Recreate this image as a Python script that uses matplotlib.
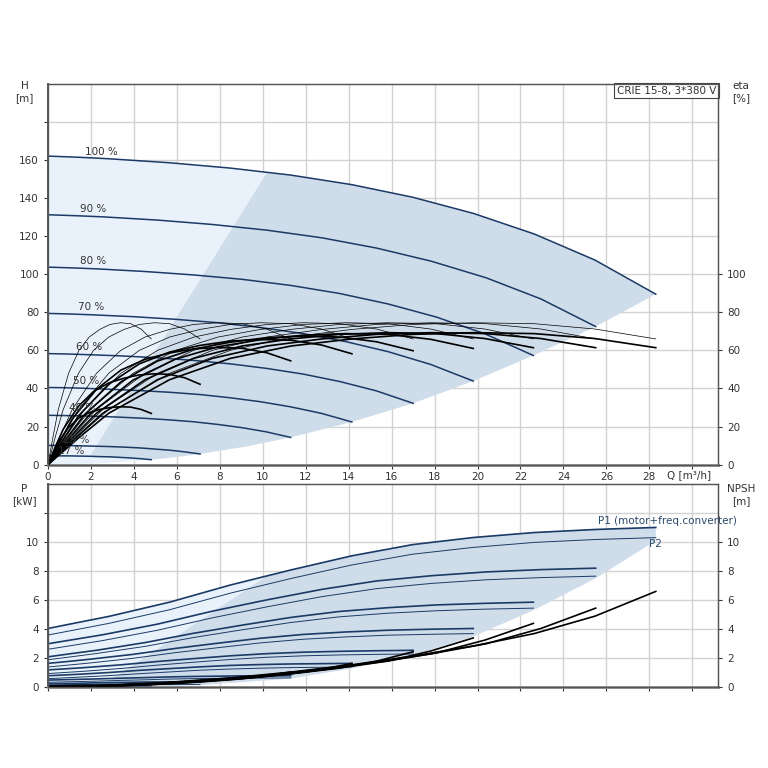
import matplotlib
matplotlib.use("Agg")
import matplotlib.pyplot as plt

# speeds and flow points (m3/h) for each speed curve
speeds = ["100 %", "90 %", "80 %", "70 %", "60 %", "50 %", "40 %", "25 %", "17 %"]
q100 = [0, 1.42, 2.83, 5.66, 8.49, 11.32, 14.15, 16.98, 19.81, 22.64, 25.47, 28.3]
q90 = [0, 1.28, 2.55, 5.1, 7.65, 10.2, 12.75, 15.3, 17.85, 20.4, 22.95, 25.5]
q80 = [0, 1.13, 2.26, 4.52, 6.78, 9.04, 11.3, 13.56, 15.82, 18.08, 20.34, 22.6]
q70 = [0, 0.99, 1.98, 3.96, 5.94, 7.92, 9.9, 11.88, 13.86, 15.84, 17.82, 19.8]
q60 = [0, 0.85, 1.7, 3.4, 5.1, 6.8, 8.5, 10.2, 11.9, 13.6, 15.3, 17.0]
q50 = [0, 0.71, 1.42, 2.83, 4.25, 5.66, 7.08, 8.49, 9.91, 11.32, 12.74, 14.15]
q40 = [0, 0.57, 1.13, 2.26, 3.39, 4.52, 5.65, 6.78, 7.91, 9.04, 10.17, 11.3]
q25 = [0, 0.35, 0.71, 1.42, 2.12, 2.83, 3.54, 4.25, 4.96, 5.66, 6.37, 7.08]
q17 = [0, 0.24, 0.48, 0.96, 1.44, 1.92, 2.41, 2.89, 3.37, 3.85, 4.33, 4.81]
q_all = [q100, q90, q80, q70, q60, q50, q40, q25, q17]

# head H [m]
h100 = [162, 161.4, 160.6, 158.5, 155.7, 152.0, 147.0, 140.4, 131.9, 121.1, 107.4, 89.5]
h90 = [131.2, 130.7, 130.1, 128.4, 126.1, 123.1, 119.1, 113.7, 106.8, 98.1, 87.0, 72.5]
h80 = [103.7, 103.3, 102.8, 101.4, 99.6, 97.3, 94.1, 89.9, 84.4, 77.5, 68.7, 57.3]
h70 = [79.4, 79.1, 78.7, 77.7, 76.3, 74.5, 72.0, 68.8, 64.6, 59.3, 52.6, 43.9]
h60 = [58.3, 58.1, 57.8, 57.1, 56.1, 54.7, 52.9, 50.5, 47.5, 43.6, 38.7, 32.2]
h50 = [40.5, 40.4, 40.2, 39.6, 38.9, 38.0, 36.8, 35.1, 33.0, 30.3, 26.9, 22.4]
h40 = [25.9, 25.8, 25.7, 25.4, 24.9, 24.3, 23.5, 22.5, 21.1, 19.4, 17.2, 14.3]
h25 = [10.1, 10.1, 10.0, 9.9, 9.7, 9.5, 9.2, 8.8, 8.2, 7.6, 6.7, 5.6]
h17 = [4.7, 4.7, 4.6, 4.6, 4.5, 4.4, 4.2, 4.1, 3.8, 3.5, 3.1, 2.6]
h_all = [h100, h90, h80, h70, h60, h50, h40, h25, h17]

# pump efficiency (thin) - same for every speed
eta_pump = [0, 15, 29, 48, 60, 67, 71, 73.6, 74.5, 74.0, 71.2, 66]
# total efficiency (thick)
eta100 = [0, 14.0, 27.0, 44.6, 55.8, 62.3, 66.0, 68.4, 69.3, 68.8, 66.2, 61.4]
eta90 = [0, 14.0, 27.0, 44.6, 55.8, 62.3, 66.0, 68.4, 69.3, 68.8, 66.2, 61.4]
eta80 = [0, 14.0, 27.0, 44.6, 55.8, 62.3, 66.0, 68.4, 69.3, 68.8, 66.2, 61.4]
eta70 = [0, 13.9, 26.8, 44.4, 55.4, 61.9, 65.6, 68.0, 68.8, 68.4, 65.8, 61.0]
eta60 = [0, 13.6, 26.3, 43.5, 54.4, 60.7, 64.3, 66.7, 67.5, 67.0, 64.5, 59.8]
eta50 = [0, 13.2, 25.6, 42.3, 52.9, 59.1, 62.6, 64.9, 65.7, 65.3, 62.8, 58.2]
eta40 = [0, 12.4, 24.0, 39.6, 49.6, 55.3, 58.6, 60.8, 61.5, 61.1, 58.8, 54.5]
eta25 = [0, 9.6, 18.6, 30.7, 38.4, 42.9, 45.4, 47.1, 47.7, 47.4, 45.6, 42.2]
eta17 = [0, 6.1, 11.8, 19.6, 24.5, 27.3, 29.0, 30.0, 30.4, 30.2, 29.0, 26.9]
eta_all = [eta100, eta90, eta80, eta70, eta60, eta50, eta40, eta25, eta17]

# power P1 (motor+freq.converter) and P2 [kW]
p1_100 = [4.05, 4.47, 4.88, 5.86, 7.04, 8.08, 9.05, 9.82, 10.31, 10.65, 10.86, 11.0]
p1_90 = [3.0, 3.31, 3.62, 4.35, 5.24, 6.02, 6.74, 7.32, 7.68, 7.94, 8.10, 8.2]
p1_80 = [2.1, 2.33, 2.55, 3.08, 3.72, 4.28, 4.81, 5.22, 5.48, 5.67, 5.78, 5.86]
p1_70 = [1.65, 1.79, 1.94, 2.27, 2.68, 3.04, 3.38, 3.64, 3.81, 3.93, 4.0, 4.05]
p1_60 = [1.2, 1.28, 1.36, 1.55, 1.78, 1.98, 2.17, 2.32, 2.42, 2.48, 2.52, 2.55]
p1_50 = [0.8, 0.85, 0.90, 1.02, 1.17, 1.29, 1.41, 1.51, 1.57, 1.61, 1.63, 1.65]
p1_40 = [0.5, 0.52, 0.54, 0.58, 0.63, 0.67, 0.72, 0.75, 0.77, 0.79, 0.79, 0.8]
p1_25 = [0.25, 0.26, 0.27, 0.28, 0.31, 0.33, 0.34, 0.36, 0.37, 0.37, 0.38, 0.38]
p1_17 = [0.15, 0.15, 0.16, 0.17, 0.18, 0.19, 0.20, 0.21, 0.21, 0.22, 0.22, 0.22]
p1_all = [p1_100, p1_90, p1_80, p1_70, p1_60, p1_50, p1_40, p1_25, p1_17]

p2_100 = [3.6, 4.0, 4.4, 5.34, 6.48, 7.49, 8.42, 9.16, 9.63, 9.97, 10.17, 10.3]
p2_90 = [2.62, 2.92, 3.22, 3.93, 4.78, 5.54, 6.24, 6.79, 7.15, 7.40, 7.55, 7.65]
p2_80 = [1.9, 2.11, 2.33, 2.82, 3.43, 3.96, 4.46, 4.85, 5.10, 5.27, 5.38, 5.45]
p2_70 = [1.4, 1.54, 1.68, 2.0, 2.39, 2.73, 3.06, 3.31, 3.47, 3.59, 3.65, 3.7]
p2_60 = [0.95, 1.03, 1.11, 1.30, 1.53, 1.73, 1.92, 2.07, 2.17, 2.23, 2.27, 2.3]
p2_50 = [0.6, 0.65, 0.70, 0.81, 0.94, 1.06, 1.18, 1.26, 1.32, 1.36, 1.38, 1.4]
p2_40 = [0.35, 0.37, 0.39, 0.43, 0.48, 0.52, 0.57, 0.60, 0.62, 0.64, 0.64, 0.65]
p2_25 = [0.12, 0.12, 0.13, 0.14, 0.15, 0.17, 0.18, 0.19, 0.19, 0.2, 0.2, 0.2]
p2_17 = [0.06, 0.06, 0.06, 0.07, 0.07, 0.08, 0.08, 0.08, 0.09, 0.09, 0.09, 0.09]
p2_all = [p2_100, p2_90, p2_80, p2_70, p2_60, p2_50, p2_40, p2_25, p2_17]

# NPSH [m]
npsh100 = [0.1, 0.12, 0.15, 0.35, 0.65, 1.05, 1.55, 2.15, 2.85, 3.7, 4.9, 6.6]
npsh90 = [0.08, 0.1, 0.12, 0.28, 0.53, 0.85, 1.26, 1.74, 2.31, 3.0, 4.05, 5.45]
npsh80 = [0.06, 0.08, 0.1, 0.22, 0.42, 0.67, 0.99, 1.38, 1.82, 2.37, 3.25, 4.4]
npsh70 = [0.05, 0.06, 0.07, 0.17, 0.32, 0.51, 0.76, 1.05, 1.40, 1.81, 2.5, 3.4]
npsh60 = [0.04, 0.04, 0.05, 0.13, 0.23, 0.38, 0.56, 0.77, 1.03, 1.33, 1.8, 2.45]
npsh50 = [0.03, 0.03, 0.04, 0.09, 0.16, 0.26, 0.39, 0.54, 0.71, 0.93, 1.23, 1.65]
npsh40 = [0.02, 0.02, 0.02, 0.06, 0.10, 0.17, 0.25, 0.34, 0.46, 0.59, 0.78, 1.06]
npsh_all = [npsh100, npsh90, npsh80, npsh70, npsh60, npsh50, npsh40]

# label positions for the speed curves
label_q = [1.7, 1.5, 1.5, 1.4, 1.3, 1.15, 1.0, 0.7, 0.45]
label_h = [164, 134, 107, 83, 62, 44, 29.5, 13, 7.3]

# shaded areas (Q, H) / (Q, P)
env_dark_q = [1.95, 10.2, 11.32, 14.15, 16.98, 19.81, 22.64, 25.47, 28.3, 25.5, 22.6, 19.8, 17.0,
              14.15, 11.3, 9.2, 7.08, 5.9, 4.81, 4.33, 3.85, 3.37, 2.89, 2.41]
env_dark_h = [4.4, 153.5, 152.0, 147.0, 140.4, 131.9, 121.1, 107.4, 89.5, 72.5, 57.3, 43.9, 32.2,
              22.4, 14.3, 9.45, 5.6, 3.9, 2.6, 3.1, 3.5, 3.8, 4.1, 4.2]
env_light_q = [0, 0, 1.42, 2.83, 5.66, 8.49, 10.2, 1.95, 2.41, 2.89, 3.37, 3.85, 4.33, 4.81, 2.4]
env_light_h = [0, 162, 161.4, 160.6, 158.5, 155.7, 153.5, 4.4, 4.2, 4.1, 3.8, 3.5, 3.1, 2.6, 0.65]
penv_dark_q = [2.4, 10.2, 11.32, 14.15, 16.98, 19.81, 22.64, 25.47, 28.3, 28.3, 25.5, 22.6, 19.8,
               17.0, 14.15, 11.3, 7.08, 4.81]
penv_dark_p = [0, 7.67, 8.08, 9.05, 9.82, 10.31, 10.65, 10.86, 11.0, 10.1, 7.5, 5.3, 3.5,
               2.2, 1.3, 0.6, 0.15, 0.05]
penv_light_q = [0, 0, 1.42, 2.83, 5.66, 8.49, 10.2, 2.4]
penv_light_p = [0, 4.05, 4.47, 4.88, 5.86, 7.04, 7.67, 0]

dark_fill = "#cfdce9"
light_fill = "#e9f2fa"
line_col = "#1b3a66"
grid_col = "#d2d2d2"
txt_col = "#333333"

fig = plt.figure(figsize=(7.68, 7.68), dpi=100)
ax1 = fig.add_axes([0.0625, 0.395, 0.8725, 0.496])
ax2 = fig.add_axes([0.0625, 0.105, 0.8725, 0.265])

"""
Upper plot: head and efficiency
"""
ax1.fill(env_light_q, env_light_h, color=light_fill, lw=0, zorder=1)
ax1.fill(env_dark_q, env_dark_h, color=dark_fill, lw=0, zorder=1)
for q, h in zip(q_all, h_all):
    ax1.plot(q, h, c=line_col, lw=1.1, zorder=3)
for q, e in zip(q_all, eta_all):
    ax1.plot(q, eta_pump, c="black", lw=0.5, zorder=4)
    ax1.plot(q, e, c="black", lw=1.2, zorder=4)
for name, x, y in zip(speeds, label_q, label_h):
    ax1.text(x, y, name, fontsize=7.5, color=txt_col, va="center", zorder=5)

ax1.set_xlim(0, 31.2)
ax1.set_ylim(0, 200)
ax1.set_xticks(range(0, 31, 2))
ax1.set_xticklabels([str(v) for v in range(0, 29, 2)] + [""])
ax1.set_yticks(range(0, 181, 20))
ax1.set_yticklabels([str(v) for v in range(0, 161, 20)] + [""])
ax1.grid(True, color=grid_col, lw=1.0, zorder=0)
ax1.set_axisbelow(True)
ax1.text(0.997, 0.995, "CRIE 15-8, 3*380 V", transform=ax1.transAxes, ha="right", va="top",
         fontsize=7.5, color=txt_col, zorder=6,
         bbox=dict(boxstyle="square,pad=0.25", fc="white", ec="#444444", lw=0.8))

ax1r = ax1.twinx()
ax1r.set_ylim(0, 200)
ax1r.set_yticks(range(0, 101, 20))

"""
Lower plot: power and NPSH
"""
ax2.fill(penv_light_q, penv_light_p, color=light_fill, lw=0, zorder=1)
ax2.fill(penv_dark_q, penv_dark_p, color=dark_fill, lw=0, zorder=1)
for q, p1, p2 in zip(q_all, p1_all, p2_all):
    ax2.plot(q, p1, c=line_col, lw=1.2, zorder=3)
    ax2.plot(q, p2, c=line_col, lw=0.7, zorder=3)
for q, n in zip(q_all, npsh_all):
    ax2.plot(q, n, c="black", lw=1.2, zorder=4)
ax2.text(25.6, 11.45, "P1 (motor+freq.converter)", fontsize=7.5, color="#2a4a6a", va="center")
ax2.text(28.0, 9.85, "P2", fontsize=7.5, color="#2a4a6a", va="center")

ax2.set_xlim(0, 31.2)
ax2.set_ylim(0, 14)
ax2.set_xticks(range(0, 31, 2))
ax2.set_xticklabels([])
ax2.set_yticks(range(0, 13, 2))
ax2.set_yticklabels([str(v) for v in range(0, 11, 2)] + [""])
ax2.grid(True, color=grid_col, lw=1.0, zorder=0)
ax2.set_axisbelow(True)

ax2r = ax2.twinx()
ax2r.set_ylim(0, 14)
ax2r.set_yticks(range(0, 11, 2))

for a in [ax1, ax2, ax1r, ax2r]:
    a.tick_params(labelsize=7.5, colors=txt_col, length=3, width=0.8)
    a.tick_params(axis="x", pad=2)
    for s in a.spines.values():
        s.set_color("#555555")
        s.set_linewidth(0.9)
for a in [ax1, ax2]:
    a.spines["bottom"].set_color("#8a8a8a")
    a.spines["bottom"].set_linewidth(2.0)
    a.spines["left"].set_linewidth(1.4)

# axis titles
fig.text(0.032, 0.88, "H\n[m]", fontsize=7.5, color=txt_col, ha="center", va="center", linespacing=1.3)
fig.text(0.965, 0.88, "eta\n[%]", fontsize=7.5, color=txt_col, ha="center", va="center", linespacing=1.3)
fig.text(0.032, 0.355, "P\n[kW]", fontsize=7.5, color=txt_col, ha="center", va="center", linespacing=1.3)
fig.text(0.965, 0.355, "NPSH\n[m]", fontsize=7.5, color=txt_col, ha="center", va="center", linespacing=1.3)
fig.text(0.868, 0.381, "Q [m³/h]", fontsize=7.5, color=txt_col, ha="left", va="center")

plt.savefig("out.png", dpi=100)
